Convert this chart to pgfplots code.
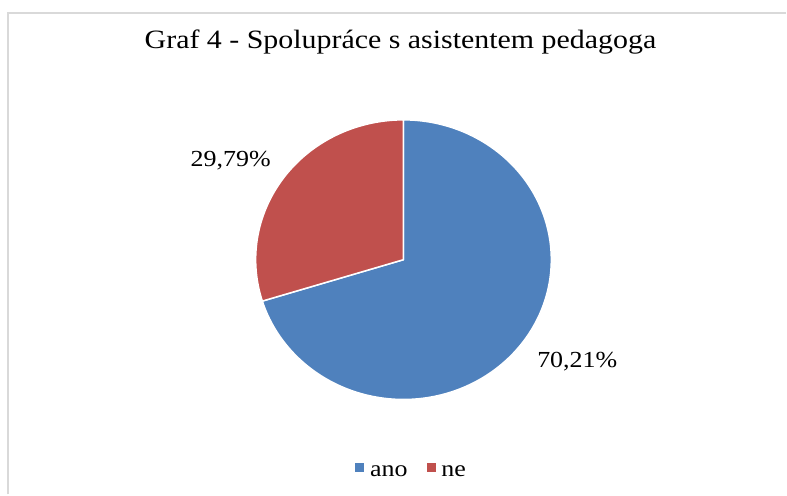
\documentclass[border=0pt]{standalone}
\usepackage{pgfplots}
\pgfplotsset{compat=1.18}
\usepackage{fontspec}
\setmainfont{Liberation Serif}[FakeStretch=1.13]
\definecolor{pieblue}{HTML}{4F81BD}
\definecolor{piered}{HTML}{C0504D}
\definecolor{framegray}{HTML}{D9D9D9}
\newcommand\valAno{70.21}
\newcommand\valNe{29.79}
\begin{document}
\begin{tikzpicture}
\pgfmathsetmacro\angEnd{90-3.6*\valAno}
\pgfmathsetmacro\angRed{90+3.6*\valNe}
\begin{axis}[
  x=148bp, y=140bp,
  xmin=-2.72973, xmax=2.58784, ymin=-1.67857, ymax=1.85714,
  hide axis, clip=false,
  legend style={at={(rel axis cs:0.5235,0.0465)}, anchor=center, draw=none, fill=none,
    legend columns=2, font=\fontsize{23bp}{26bp}\selectfont,
    /tikz/every even column/.append style={column sep=18bp}},
]
\path (rel axis cs:0,0) rectangle (rel axis cs:1,1);
\draw[framegray, line width=2bp] (axis cs:-2.6757,-1.67857) -- (axis cs:-2.6757,1.7643) -- (axis cs:2.58784,1.7643);
\addplot[forget plot, data cs=polar, fill=pieblue, draw=white, line width=1.5bp, line join=round,
  domain=90:\angEnd, samples=200] ({x},{1}) -- (axis cs:0,0) -- cycle;
\addplot[forget plot, data cs=polar, fill=piered, draw=white, line width=1.5bp, line join=round,
  domain=90:\angRed, samples=100] ({x},{1}) -- (axis cs:0,0) -- cycle;
\addlegendimage{fill=pieblue, draw=none, legend image code/.code={\fill (0bp,-1bp) rectangle (9bp,8bp); \path (13bp,0bp);}}
\addlegendentry{ano}
\addlegendimage{fill=piered, draw=none, legend image code/.code={\fill (0bp,-1bp) rectangle (9bp,8bp); \path (12bp,0bp);}}
\addlegendentry{ne}
\node[anchor=base, font=\fontsize{26.5bp}{30bp}\selectfont] at (axis cs:-0.0203,1.5121) {Graf 4 - Spolupráce s asistentem pedagoga};
\node[anchor=base, font=\fontsize{23bp}{26bp}\selectfont] at (axis cs:-1.1689,0.6643) {29,79\%};
\node[anchor=base, font=\fontsize{23bp}{26bp}\selectfont] at (axis cs:1.1757,-0.7693) {70,21\%};
\end{axis}
\end{tikzpicture}
\end{document}
